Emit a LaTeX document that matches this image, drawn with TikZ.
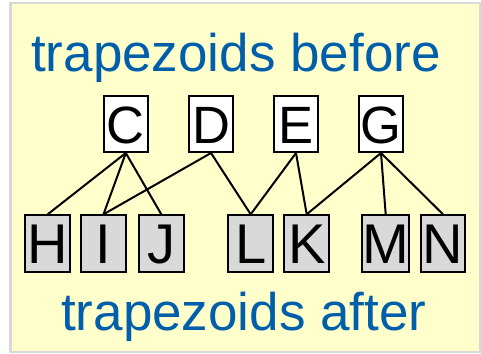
\documentclass[tikz,border=0pt]{standalone}
\usepackage{fontspec}
\setmainfont{Liberation Sans}
\definecolor{bgyellow}{RGB}{255,255,204}
\definecolor{bordergray}{RGB}{217,217,217}
\definecolor{titleblue}{RGB}{0,94,170}
\definecolor{boxgray}{RGB}{217,217,217}
\begin{document}
\begin{tikzpicture}[x=1pt,y=-1pt,
  titletext/.style={text=titleblue, inner sep=0pt, font=\fontsize{53}{60}\selectfont},
  topbox/.style={draw=black, line width=2pt, fill=white, inner sep=0pt,
    minimum width=44pt, minimum height=56pt, text height=38pt, text depth=0pt,
    font=\fontsize{52.5}{60}\selectfont},
  botbox/.style={draw=black, line width=2pt, fill=boxgray, inner sep=0pt,
    minimum width=44.7pt, minimum height=56.4pt, text height=40.5pt, text depth=0pt,
    font=\fontsize{56}{64}\selectfont},
  link/.style={draw=black, line width=2pt}]
\useasboundingbox (0,0) rectangle (481,353);
\fill[bgyellow] (10.5,3) rectangle (479.5,352);
\draw[bordergray, line width=2.5pt] (10.5,3) rectangle (479.8,352.2);
\node[titletext, anchor=base west] (tb) at (31,71) {trapezoids before};
\node[titletext, anchor=base west] (ta) at (61,330) {trapezoids after};
\node[topbox] (C) at (125.8,124) {C};
\node[topbox] (D) at (211,124) {D};
\node[topbox] (E) at (296,124) {E};
\node[topbox] (G) at (381,124) {G};
\node[botbox] (H) at (47.7,243.5) {H};
\node[botbox] (I) at (103.5,243.5) {I};
\node[botbox] (J) at (161.3,243.5) {J};
\node[botbox] (L) at (250.7,243.5) {L};
\node[botbox] (K) at (306.7,243.5) {K};
\node[botbox] (M) at (385.7,243.5) {M};
\node[botbox] (N) at (443,243.5) {N};
\draw[link] (C.south) -- (H.north);
\draw[link] (C.south) -- (I.north);
\draw[link] (C.south) -- (J.north);
\draw[link] (D.south) -- (I.north);
\draw[link] (D.south) -- (L.north);
\draw[link] (E.south) -- (L.north);
\draw[link] (E.south) -- (K.north);
\draw[link] (G.south) -- (K.north);
\draw[link] (G.south) -- (M.north);
\draw[link] (G.south) -- (N.north);
\end{tikzpicture}
\end{document}
